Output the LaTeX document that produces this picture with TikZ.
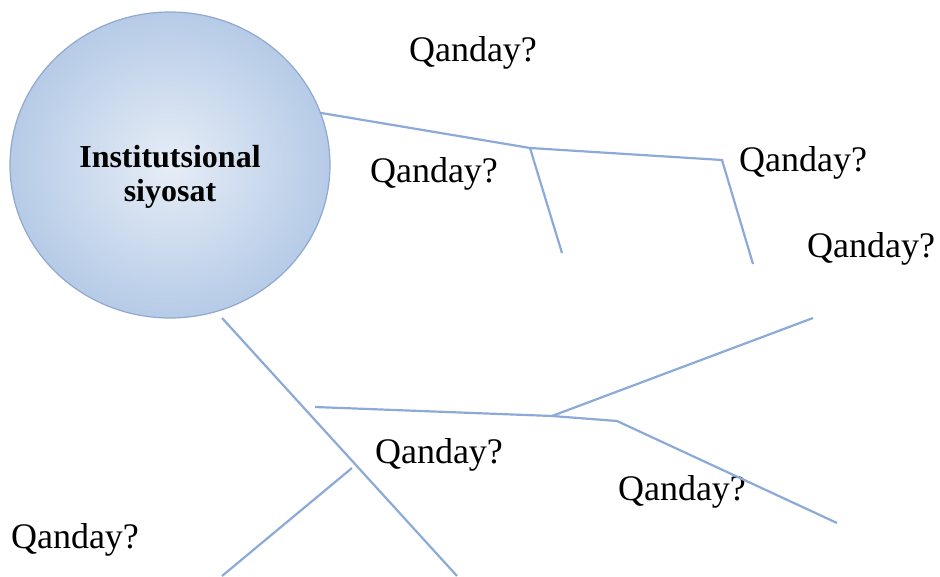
\documentclass[tikz,border=0pt]{standalone}
\usepackage{fontspec}
\setmainfont{Liberation Serif}
\usetikzlibrary{shapes.geometric}
\definecolor{lineBlue}{RGB}{140,170,215}
\definecolor{ballEdge}{RGB}{145,168,208}
\definecolor{ballIn}{RGB}{230,237,246}
\definecolor{ballOut}{RGB}{182,203,231}
\tikzstyle{branch} = [draw=lineBlue, line width=2.2pt]
\tikzstyle{mBall} = [ellipse, draw=ballEdge, line width=1.2pt, inner color=ballIn, outer color=ballOut, minimum width=320pt, minimum height=306pt]
\tikzstyle{qText} = [anchor=base, inner sep=0pt, font=\fontsize{36}{40}\selectfont]

\begin{document}
\begin{tikzpicture}[x=1pt, y=-1pt]
        \useasboundingbox (0,0) rectangle (940,577);
        \node[mBall] (ball) at (170,165) {};
        \node[align=center, font=\bfseries\fontsize{32}{34}\selectfont] (title) at (170,177) {Institutsional\\siyosat};

        \node[qText] (q1) at (473,62) {Qanday?};
        \node[qText] (q2) at (434,183) {Qanday?};
        \node[qText] (q3) at (803,172) {Qanday?};
        \node[qText] (q4) at (871,258) {Qanday?};
        \node[qText] (q5) at (439,463) {Qanday?};
        \node[qText] (q6) at (682,500) {Qanday?};
        \node[qText] (q7) at (75,548) {Qanday?};

        \coordinate (u1) at (530,148);
        \coordinate (u2) at (722,160);
        \coordinate (u1e) at (562,253);
        \coordinate (u2e) at (753,264);

        \coordinate (l0) at (222,318);
        \coordinate (l1) at (457,576);
        \coordinate (k0) at (352,468);
        \coordinate (k1) at (222,576);
        \coordinate (h0) at (315,407);
        \coordinate (h1) at (552,416);
        \coordinate (h2) at (617,421);
        \coordinate (h1e) at (813,318);
        \coordinate (h2e) at (837,523);

        \draw[branch] (ball.19) -- (u1) -- (u2) -- (u2e);
        \draw[branch] (u1) -- (u1e);

        \draw[branch] (l0) -- (l1);
        \draw[branch] (k0) -- (k1);
        \draw[branch] (h0) -- (h1) -- (h2) -- (h2e);
        \draw[branch] (h1) -- (h1e);
\end{tikzpicture}
\end{document}
